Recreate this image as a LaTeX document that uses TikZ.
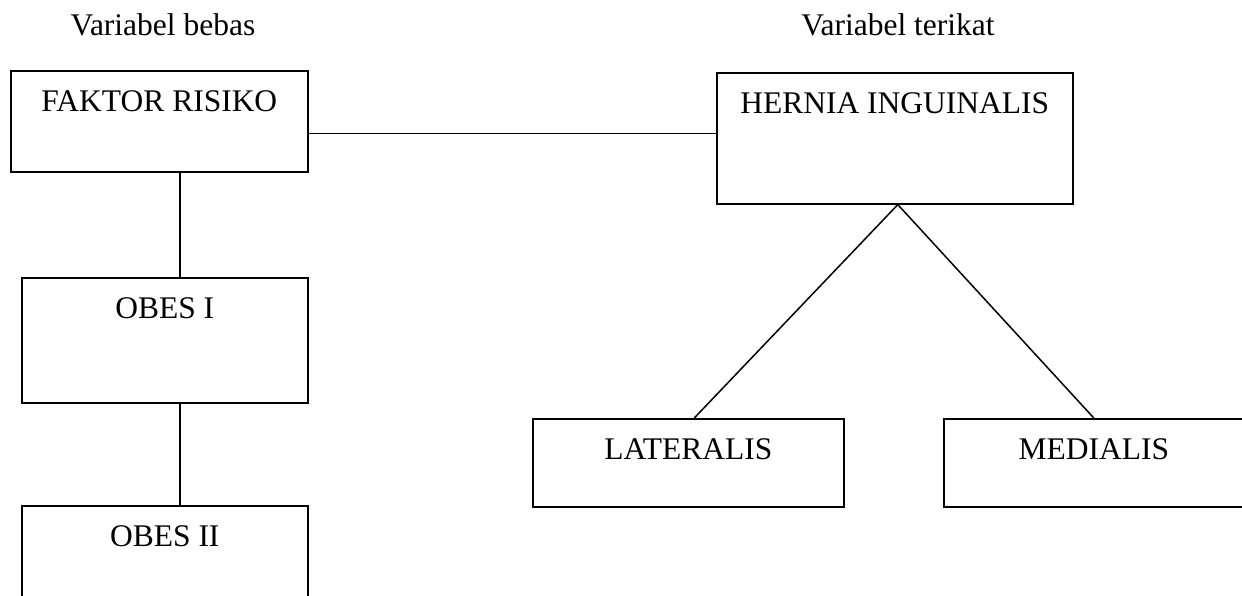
\documentclass[tikz,border=0pt]{standalone}
\usepackage{fontspec}
\setmainfont{Liberation Serif}
\begin{document}
\begin{tikzpicture}[x=1pt,y=-1pt,
  box/.style={draw, line width=1.6pt, inner sep=0pt, anchor=north west, text height=41pt, font=\fontsize{31.5}{38}\selectfont},
  lbl/.style={inner sep=0pt, anchor=base, font=\fontsize{31.5}{38}\selectfont},
  conn/.style={line width=1.5pt}]
\useasboundingbox (0,0) rectangle (1242,595);
\clip (0,0) rectangle (1242,595);
\node[lbl] (vb) at (163,35) {Variabel bebas};
\node[lbl] (vt) at (898,35) {Variabel terikat};
\node[box, minimum width=297pt, text depth=60pt] (faktor) at (10,70) {FAKTOR RISIKO};
\node[box, minimum width=356pt, text depth=90pt] (hernia) at (716,72) {HERNIA INGUINALIS};
\node[box, minimum width=286pt, text depth=84pt] (obes1) at (21,277) {OBES I};
\node[box, minimum width=286pt, text depth=84pt] (obes2) at (21,505) {OBES II};
\node[box, minimum width=311pt, text depth=47pt] (lat) at (532,418) {LATERALIS};
\node[box, minimum width=300pt, text depth=47pt] (med) at (943,418) {MEDIALIS};
\coordinate (vx) at (180,0);
\draw[conn] ([yshift=39pt]faktor.south east) -- ([yshift=39pt]faktor.south east -| hernia.west);
\draw[conn] (faktor.south -| vx) -- (obes1.north -| vx);
\draw[conn] (obes1.south -| vx) -- (obes2.north -| vx);
\draw[conn] ([xshift=3pt]hernia.south) -- ([xshift=6pt]lat.north);
\draw[conn] ([xshift=3pt]hernia.south) -- (med.north);
\end{tikzpicture}
\end{document}
